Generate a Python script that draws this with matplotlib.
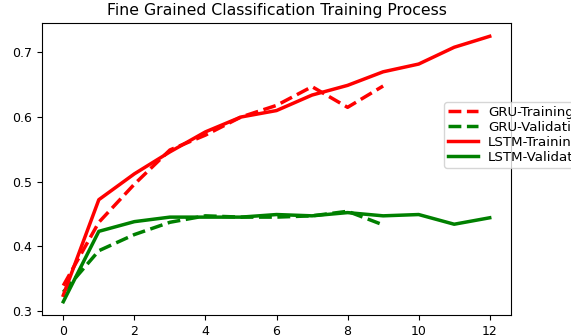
import numpy as np
import matplotlib.pyplot as plt

epochs_gru = np.arange(0, 10)
epochs_lstm = np.arange(0, 13)

gru_train = [0.339, 0.437, 0.496, 0.549, 0.572, 0.600, 0.618, 0.647, 0.615, 0.648]
gru_val = [0.329, 0.393, 0.418, 0.437, 0.447, 0.445, 0.445, 0.447, 0.454, 0.433]
lstm_train = [0.324, 0.472, 0.512, 0.546, 0.577, 0.600, 0.610, 0.634, 0.649, 0.670,
              0.682, 0.708, 0.725]
lstm_val = [0.314, 0.423, 0.438, 0.445, 0.445, 0.445, 0.449, 0.447, 0.452, 0.447,
            0.449, 0.434, 0.444]

fig = plt.figure(figsize=(5.71, 3.36), dpi=100)
ax = fig.add_axes([0.0735, 0.0625, 0.8215, 0.869])

ax.plot(epochs_gru, gru_train, "r--", lw=2.5, label="GRU-Training")
ax.plot(epochs_gru, gru_val, "g--", lw=2.5, label="GRU-Validation")
ax.plot(epochs_lstm, lstm_train, "r-", lw=2.5, label="LSTM-Training")
ax.plot(epochs_lstm, lstm_val, "g-", lw=2.5, label="LSTM-Validation")

ax.set_xticks(np.arange(0, 13, 2))
ax.set_yticks([0.3, 0.4, 0.5, 0.6, 0.7])
ax.tick_params(labelsize=9)
ax.set_title("Fine Grained Classification Training Process", fontsize=11.3)

fig.legend(loc="upper left", bbox_to_anchor=(0.7776, 0.6964), borderaxespad=0,
           fontsize=9.6, labelspacing=0.15, handlelength=2.25, handletextpad=0.75,
           borderpad=0.29)

fig.savefig("out.png", dpi=100)
